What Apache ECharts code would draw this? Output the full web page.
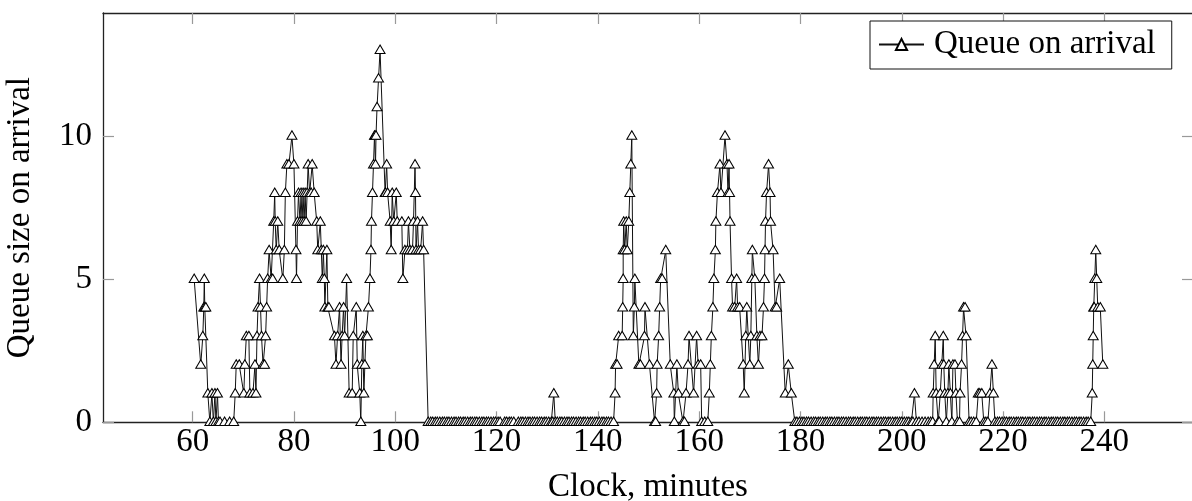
<!DOCTYPE html>
<html>
<head>
<meta charset="utf-8">
<script src="https://cdn.jsdelivr.net/npm/echarts@6/dist/echarts.min.js"></script>
<style>
html,body{margin:0;padding:0;background:#fff;}
#chart{width:1192px;height:501px;}
</style>
</head>
<body>
<div id="chart"></div>
<script>
// Tick labels
const xTicks = [60, 80, 100, 120, 140, 160, 180, 200, 220, 240];
const yTicks = [0, 5, 10];
const seriesName = 'Queue on arrival';
const xTitle = 'Clock, minutes';
const yTitle = 'Queue size on arrival';

// [clock (minutes), queue size on arrival]
const arrivalsEarly = [
[60.3,5],[61.6,2],[62.0,3],[62.2,4],[62.3,5],[62.4,4],[62.6,4],[63.0,1],[63.4,0],[63.8,1],
[64.1,0],[64.4,1],[64.6,0],[64.9,1],[65.1,0],[65.4,0],[66.3,0],[67.3,0],[68.1,0],[68.4,1],
[68.6,2],[69.2,2],[70.1,1],[70.3,2],[70.6,3],[71.1,3],[71.3,1],[71.9,1],[72.3,2],[72.5,1],
[72.7,3],[72.9,4],[73.2,5],[73.4,4],[73.6,3],[73.9,2],[74.2,2],[74.4,3],[74.6,4],[74.8,5],
[75.1,6],[75.5,5],[75.8,5],[76.0,7],[76.2,8],[76.3,7],[76.5,6],[76.8,7],[77.1,6],[77.8,5],
[78.1,6],[78.3,8],[78.6,9],[79.0,9],[79.6,10],[80.0,9],[80.4,6],[80.5,5],[80.7,7],[80.9,8],
[81.2,7],[81.4,8],[81.6,7],[81.8,8],[82.0,7],[82.2,8],[82.4,7],[82.6,8],[82.8,9],[83.1,8],
[83.4,8],[83.6,9],[84.0,8],[84.5,7],[84.7,6],[85.2,7],[85.4,6],[85.6,5],[85.8,6],[86.0,5],
[86.1,4],[86.5,6],[86.7,4],[86.9,4],[88.0,3],[88.3,2],[88.6,3],[89.0,4],[89.3,2],[89.5,3],
[89.8,4],[90.0,3],[90.4,5],[90.9,1],[91.5,1],[91.7,3],[92.3,4],[92.5,2],[93.0,1],[93.2,0],
[93.4,2],[93.6,3],[93.8,1],[94.0,2],[94.2,3],[94.5,3],[94.7,4],[95.0,5],[95.2,6],[95.3,7],
[95.5,8],[95.7,9],[95.9,10],[96.0,10],[96.1,9],[96.2,10],[96.4,11],[96.7,12],[97.0,13],[98.0,8],
[98.1,8],[98.3,9],[98.5,8],[99.0,7],[99.2,6],[99.4,8],[99.7,7],[100.2,8],[100.4,7],[101.3,7],
[101.5,5],[101.9,6],[102.4,6],[102.6,7],[102.9,6],[103.4,6],[103.6,7],[103.9,9],[104.0,8],[104.1,6],
[104.4,7],[104.6,6],[105.0,6],[105.4,7],[105.6,6],[106.5,0]
];
const arrivalsQuiet1 = [
[107.0,0],[107.4,0],[107.9,0],[108.3,0],[108.8,0],[109.3,0],[109.7,0],[110.2,0],[110.6,0],[111.1,0],
[111.6,0],[112.0,0],[112.5,0],[112.9,0],[113.4,0],[113.8,0],[114.3,0],[114.8,0],[115.2,0],[115.7,0],
[116.1,0],[116.6,0],[117.1,0],[117.5,0],[118.0,0],[118.4,0],[118.9,0],[119.4,0],[119.8,0],[120.3,0],
[120.7,0],[121.6,0],[122.0,0],[122.5,0],[122.9,0],[123.4,0],[124.3,0],[124.8,0],[125.2,0],[125.7,0],
[126.2,0],[126.6,0],[127.1,0],[127.5,0],[128.0,0],[128.5,0],[128.9,0],[129.4,0],[129.8,0],[130.3,0],
[130.8,0],[131.1,0],[131.3,1],[131.6,0],[132.0,0],[132.5,0],[132.9,0],[133.4,0],[133.9,0],[134.3,0],
[134.8,0],[135.2,0],[135.7,0],[136.2,0],[136.6,0],[137.1,0],[137.5,0],[138.0,0],[138.5,0],[138.9,0],
[139.4,0],[139.8,0],[140.3,0],[140.8,0],[141.2,0],[141.7,0],[142.1,0],[142.6,0],[143.1,0]
];
const arrivalsMid = [
[143.4,1],[143.5,2],[143.8,2],[144.1,3],[144.8,3],[144.9,4],[145.0,5],[145.0,6],[145.1,7],[145.3,6],
[145.6,7],[145.8,6],[146.1,7],[146.3,8],[146.5,9],[146.7,10],[147.0,3],[147.2,4],[147.3,5],[148.1,2],
[148.4,2],[149.2,3],[149.3,4],[150.2,2],[151.2,0],[151.4,0],[151.6,1],[151.7,2],[152.0,3],[152.2,4],
[152.4,5],[152.7,5],[153.4,6],[154.3,2],[155.0,1],[155.1,0],[155.6,2],[155.9,1],[156.8,0],[157.1,0],
[157.4,1],[157.8,2],[158.0,3],[158.9,1],[159.5,3],[159.8,2],[160.3,2],[160.5,0],[161.1,0],[161.7,0],
[162.0,1],[162.2,2],[162.4,3],[162.7,4],[162.9,5],[163.2,6],[163.3,7],[163.6,8],[164.1,9],[164.3,8],
[165.1,10],[165.5,9],[165.7,8],[165.9,9],[166.0,8],[166.1,7],[166.4,5],[166.6,4],[167.0,4],[167.4,5],
[167.6,4],[168.0,4],[168.7,2],[168.9,1],[169.2,3],[169.4,4],[170.0,2],[170.2,3],[170.4,5],[170.5,6],
[171.0,5],[171.4,3],[171.7,2],[172.0,3],[172.4,3],[172.7,4],[172.9,5],[173.0,6],[173.1,7],[173.3,8],
[173.7,9],[174.0,8],[174.1,7],[174.6,6],[175.0,4],[175.3,4],[175.9,5],[177.0,1],[177.6,2],[178.2,1],
[178.9,0]
];
const arrivalsQuiet2 = [
[179.3,0],[179.8,0],[180.3,0],[180.7,0],[181.2,0],[181.6,0],[182.1,0],[182.6,0],[183.0,0],[183.5,0],
[183.9,0],[184.4,0],[184.9,0],[185.3,0],[185.8,0],[186.2,0],[186.7,0],[187.2,0],[187.6,0],[188.1,0],
[188.5,0],[189.0,0],[189.5,0],[189.9,0],[190.4,0],[190.8,0],[191.3,0],[191.8,0],[192.2,0],[192.7,0],
[193.1,0],[193.6,0],[194.1,0],[194.5,0],[195.0,0],[195.4,0],[195.9,0],[196.4,0],[196.8,0],[197.3,0],
[197.7,0],[198.2,0],[198.7,0],[199.1,0],[199.6,0],[200.0,0],[200.5,0],[201.0,0],[201.4,0],[201.9,0],
[202.2,0]
];
const arrivalsLate = [
[202.5,1],[202.9,0],[203.4,0],[204.0,0],[204.6,0],[205.2,0],[205.7,0],[206.1,0],[206.2,1],[206.4,2],
[206.6,3],[206.8,1],[207.2,0],[207.4,0],[207.6,1],[207.9,2],[208.2,3],[208.3,2],[208.5,1],[208.8,0],
[209.1,1],[209.3,2],[209.6,1],[209.9,0],[210.1,2],[210.5,2],[210.7,1],[211.0,0],[211.4,0],[211.5,1],
[211.8,2],[212.0,3],[212.2,4],[212.5,4],[212.7,3],[213.3,0],[213.7,0],[214.2,0],[214.7,0],[215.1,1],
[215.4,1],[215.8,1],[216.2,0],[216.6,0],[217.0,0],[217.4,1],[217.8,2],[218.1,1],[218.4,0]
];
const arrivalsQuiet3 = [
[218.9,0],[219.3,0],[219.8,0],[220.3,0],[220.7,0],[221.2,0],[221.6,0],[222.1,0],[222.6,0],[223.0,0],
[223.5,0],[223.9,0],[224.4,0],[224.9,0],[225.3,0],[225.8,0],[226.2,0],[226.7,0],[227.2,0],[227.6,0],
[228.1,0],[228.5,0],[229.0,0],[229.5,0],[229.9,0],[230.4,0],[230.8,0],[231.3,0],[231.8,0],[232.2,0],
[232.7,0],[233.1,0],[233.6,0],[234.1,0],[234.5,0],[235.0,0],[235.4,0],[235.9,0],[236.4,0],[236.8,0],
[237.3,0]
];
const arrivalsEnd = [
[237.6,1],[237.7,2],[237.8,3],[237.9,4],[238.0,4],[238.1,5],[238.3,6],[238.5,5],[238.7,4],[239.2,4],
[239.7,2]
];

const data = [].concat(arrivalsEarly, arrivalsQuiet1, arrivalsMid, arrivalsQuiet2,
                       arrivalsLate, arrivalsQuiet3, arrivalsEnd);

const FONT = '"Liberation Serif", "DejaVu Serif", serif';
const FS = 33;
const tickStyle = { show: true, inside: true, length: 11, lineStyle: { color: '#999', width: 1.2 } };
const lineStyle = { color: '#222', width: 1.3 };

const chart = echarts.init(document.getElementById('chart'), null, { renderer: 'canvas' });
chart.setOption({
  animation: false,
  backgroundColor: '#fff',
  textStyle: { fontFamily: FONT, color: '#000' },
  grid: { left: 103, top: 13, width: 1090, height: 409.3, containLabel: false, outerBoundsMode: 'none' },
  legend: {
    show: true,
    left: 870, top: 21,
    padding: [7, 16, 8, 8],
    itemWidth: 45, itemHeight: 14,
    borderColor: '#111', borderWidth: 1, borderRadius: 0,
    backgroundColor: '#fff',
    textStyle: { fontFamily: FONT, fontSize: FS, color: '#000', padding: [0, 0, 0, 5] },
    data: [seriesName]
  },
  xAxis: [{
    type: 'value', position: 'bottom',
    min: 42.3, max: 257.5,
    name: xTitle, nameLocation: 'middle', nameGap: 49,
    nameTextStyle: { fontFamily: FONT, fontSize: FS, color: '#000' },
    axisLine: { show: true, onZero: false, lineStyle },
    axisTick: Object.assign({ customValues: xTicks }, tickStyle),
    axisLabel: { customValues: xTicks, fontFamily: FONT, fontSize: FS, color: '#000', margin: 4 },
    splitLine: { show: false }
  }, {
    type: 'value', position: 'top',
    min: 42.3, max: 257.5,
    axisLine: { show: true, onZero: false, lineStyle },
    axisTick: Object.assign({ customValues: xTicks }, tickStyle),
    axisLabel: { show: false },
    splitLine: { show: false }
  }],
  yAxis: [{
    type: 'value', position: 'left',
    min: 0, max: 14.3,
    name: yTitle, nameLocation: 'middle', nameGap: 66, nameRotate: 90,
    nameTextStyle: { fontFamily: FONT, fontSize: FS, color: '#000' },
    axisLine: { show: true, onZero: false, lineStyle },
    axisTick: Object.assign({ customValues: yTicks }, tickStyle),
    axisLabel: { customValues: yTicks, fontFamily: FONT, fontSize: FS, color: '#000', margin: 11 },
    splitLine: { show: false }
  }, {
    type: 'value', position: 'right',
    min: 0, max: 14.3,
    axisLine: { show: true, onZero: false, lineStyle },
    axisTick: Object.assign({ customValues: yTicks }, tickStyle),
    axisLabel: { show: false },
    splitLine: { show: false }
  }],
  series: [{
    name: seriesName,
    type: 'line',
    xAxisIndex: 0, yAxisIndex: 0,
    data: data,
    symbol: 'triangle',
    symbolSize: [10, 8.5],
    symbolOffset: [0, -1],
    showAllSymbol: true,
    lineStyle: { color: '#111', width: 1 },
    itemStyle: { color: '#fff', borderColor: '#000', borderWidth: 1 },
    emphasis: { disabled: true },
    z: 3
  }]
});
</script>
</body>
</html>
